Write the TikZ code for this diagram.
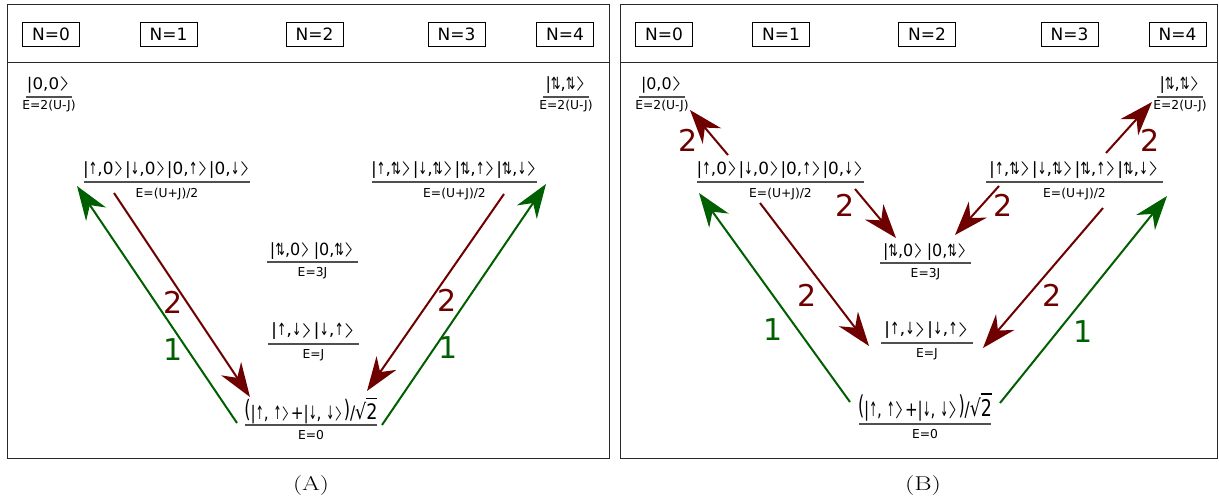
\documentclass[tikz,border=0pt]{standalone}
\usepackage{fontspec}
\newfontfamily\dv{DejaVu Sans}
\usetikzlibrary{arrows.meta,calc}
\definecolor{dred}{RGB}{110,0,0}
\definecolor{dgreen}{RGB}{0,95,0}
\definecolor{lvgray}{RGB}{80,80,80}
\definecolor{pgray}{RGB}{40,40,40}
\tikzset{
  panel/.style={draw=pgray,line width=1pt},
  nbox/.style={draw=black,line width=0.9pt,minimum width=57pt,minimum height=24pt,inner sep=0pt,font=\dv\fontsize{17}{17}\selectfont},
  lvline/.style={draw=lvgray,line width=1.4pt},
  ketA/.style={inner sep=0pt,font=\dv\fontsize{16.8}{16.8}\selectfont},
  ketS/.style={inner sep=0pt,font=\dv\fontsize{16}{16}\selectfont},
  ketC/.style={inner sep=0pt,font=\dv\fontsize{18.5}{18.5}\selectfont},
  ketD/.style={inner sep=0pt,font=\dv\fontsize{20}{20}\selectfont},
  efont/.style={inner sep=0pt,font=\dv\fontsize{12.3}{12.3}\selectfont},
  tr/.style={draw=dred,line width=2pt,-{Stealth[length=34pt,width=24pt,inset=11pt]}},
  tg/.style={draw=dgreen,line width=2pt,-{Stealth[length=34pt,width=24pt,inset=11pt]}},
  lr/.style={inner sep=0pt,text=dred,font=\dv\fontsize{30}{30}\selectfont},
  lg/.style={inner sep=0pt,text=dgreen,font=\dv\fontsize{30}{30}\selectfont},
  captxt/.style={inner sep=0pt,font=\fontsize{20}{20}\selectfont}
}
% ket closing bracket (thin, wide angle) and narrow spin arrows
\newcommand\kr{\raisebox{0.08em}{\scalebox{1.7}[0.82]{$\rangle$}}}
\newcommand\U{\scalebox{0.62}[1]{↑}}
\newcommand\D{\scalebox{0.62}[1]{↓}}
\newcommand\UD{\scalebox{0.72}[1]{⇅}}
\newcommand\Level[9]{%
  \coordinate (#1l) at (#2,#4); \coordinate (#1r) at (#3,#4);
  \draw[lvline] (#1l) -- (#1r);
  \node[#5,anchor=base] (#1k) at ($(#1l)!0.5!(#1r)+(0,-#6)$) {#8};
  \node[efont,anchor=base] (#1e) at ($(#1l)!0.5!(#1r)+(0,#7)$) {#9};
}
\newcommand\Wd[2]{\resizebox{#1pt}{\height}{#2}}
\newcommand\EzeroKet{\raisebox{0.1em}{\scalebox{1.05}[1.3]{(}}|\U, \U\kr+|\D, \D\kr\raisebox{0.1em}{\scalebox{1.05}[1.3]{)}}/\scalebox{1.15}{√\rlap{\rule[0.93em]{0.62em}{0.06em}}2}}
\begin{document}
\begin{tikzpicture}[x=1pt,y=-1pt]
\useasboundingbox (0,0) rectangle (1219,503);
% panels
\draw[panel] (7,5) rectangle (609,458);
\draw[panel] (7,63) -- (609,63);
\draw[panel] (620,5) rectangle (1217,458);
\draw[panel] (620,63) -- (1217,63);
% N boxes A
\node[nbox] (nA0) at (51,34) {N=0};
\node[nbox] (nA1) at (168.5,34) {N=1};
\node[nbox] (nA2) at (314.5,34) {N=2};
\node[nbox] (nA3) at (456.5,34) {N=3};
\node[nbox] (nA4) at (565,34) {N=4};
% N boxes B
\node[nbox] (nB0) at (664,34) {N=0};
\node[nbox] (nB1) at (781,34) {N=1};
\node[nbox] (nB2) at (927,34) {N=2};
\node[nbox] (nB3) at (1069.5,34) {N=3};
\node[nbox] (nB4) at (1177.5,34) {N=4};
% levels A
\Level{LA00}{26}{72}{97}{ketS}{8}{13}{\Wd{44}{|0,0\kr}}{E=2(U-J)}
\Level{LA44}{543}{589}{97}{ketA}{8}{13}{\Wd{41}{|\UD,\UD\kr}}{E=2(U-J)}
\Level{LA1}{84}{250}{182}{ketA}{8}{15}{\Wd{168}{|\U,0\kr|\D,0\kr|0,\U\kr|0,\D\kr}}{E=(U+J)/2}
\Level{LA3}{372}{537}{182}{ketA}{8}{15}{\Wd{167}{|\U,\UD\kr|\D,\UD\kr|\UD,\U\kr|\UD,\D\kr}}{E=(U+J)/2}
\Level{LA3J}{267}{358}{262}{ketA}{7}{14.5}{\Wd{85}{|\UD,0\kr\,|0,\UD\kr}}{E=3J}
\Level{LAJ}{268}{359}{344}{ketA}{8.5}{14}{\Wd{85}{|\U,\D\kr|\D,\U\kr}}{E=J}
\Level{LA0}{245}{377}{425}{ketC}{6}{14}{\Wd{133}{\EzeroKet}}{E=0}
% levels B
\Level{LB00}{639}{685}{97}{ketS}{8}{13}{\Wd{42}{|0,0\kr}}{E=2(U-J)}
\Level{LB44}{1157}{1203}{97}{ketA}{8}{13}{\Wd{41}{|\UD,\UD\kr}}{E=2(U-J)}
\Level{LB1}{697}{864}{182}{ketA}{8}{15}{\Wd{168}{|\U,0\kr|\D,0\kr|0,\U\kr|0,\D\kr}}{E=(U+J)/2}
\Level{LB3}{986}{1163}{182}{ketA}{8}{15}{\Wd{171}{|\U,\UD\kr|\D,\UD\kr|\UD,\U\kr|\UD,\D\kr}}{E=(U+J)/2}
\Level{LB3J}{880}{971}{263}{ketA}{7}{14.5}{\Wd{85}{|\UD,0\kr\,|0,\UD\kr}}{E=3J}
\Level{LBJ}{881}{973}{343}{ketA}{8.5}{14}{\Wd{86}{|\U,\D\kr|\D,\U\kr}}{E=J}
\Level{LB0}{859}{991}{424}{ketD}{8}{14}{\Wd{134}{\EzeroKet}}{E=0}
% arrows A
\coordinate (ga1t) at (237,423); \coordinate (ga1h) at (77,186);
\coordinate (ra1t) at (114,193); \coordinate (ra1h) at (250,397);
\coordinate (ra2t) at (504,194); \coordinate (ra2h) at (367,391);
\coordinate (ga2t) at (382,425); \coordinate (ga2h) at (546,184);
\draw[tg] (ga1t) -- (ga1h);
\draw[tr] (ra1t) -- (ra1h);
\draw[tr] (ra2t) -- (ra2h);
\draw[tg] (ga2t) -- (ga2h);
\node[lr] (lra1) at (173,302) {2};
\node[lg] (lga1) at (173,350) {1};
\node[lr] (lra2) at (447,300) {2};
\node[lg] (lga2) at (448,348) {1};
% arrows B
\coordinate (rb1t) at (728,155); \coordinate (rb1h) at (690,110);
\coordinate (rb2t) at (1106,153); \coordinate (rb2h) at (1152,102);
\coordinate (rb3t) at (855,189); \coordinate (rb3h) at (896,238);
\coordinate (rb4t) at (999,186); \coordinate (rb4h) at (955,235);
\coordinate (rb5t) at (760,203); \coordinate (rb5h) at (869,346);
\coordinate (rb6t) at (1103,208); \coordinate (rb6h) at (983,348);
\coordinate (gb1t) at (850,402); \coordinate (gb1h) at (699,193);
\coordinate (gb2t) at (1000,403); \coordinate (gb2h) at (1167,196);
\draw[tr] (rb1t) -- (rb1h);
\draw[tr] (rb2t) -- (rb2h);
\draw[tr] (rb3t) -- (rb3h);
\draw[tr] (rb4t) -- (rb4h);
\draw[tr] (rb5t) -- (rb5h);
\draw[tr] (rb6t) -- (rb6h);
\draw[tg] (gb1t) -- (gb1h);
\draw[tg] (gb2t) -- (gb2h);
\node[lr] (lrb1) at (688,140) {2};
\node[lr] (lrb2) at (1150,140) {2};
\node[lr] (lrb3) at (845,205) {2};
\node[lr] (lrb4) at (1003,205) {2};
\node[lr] (lrb5) at (807,295) {2};
\node[lr] (lrb6) at (1052,295) {2};
\node[lg] (lgb1) at (773,330) {1};
\node[lg] (lgb2) at (1083,332) {1};
% captions
\node[captxt] (capA) at (311,486) {\resizebox{36pt}{\height}{(A)}};
\node[captxt] (capB) at (923,486) {\resizebox{36pt}{\height}{(B)}};
\end{tikzpicture}
\end{document}
